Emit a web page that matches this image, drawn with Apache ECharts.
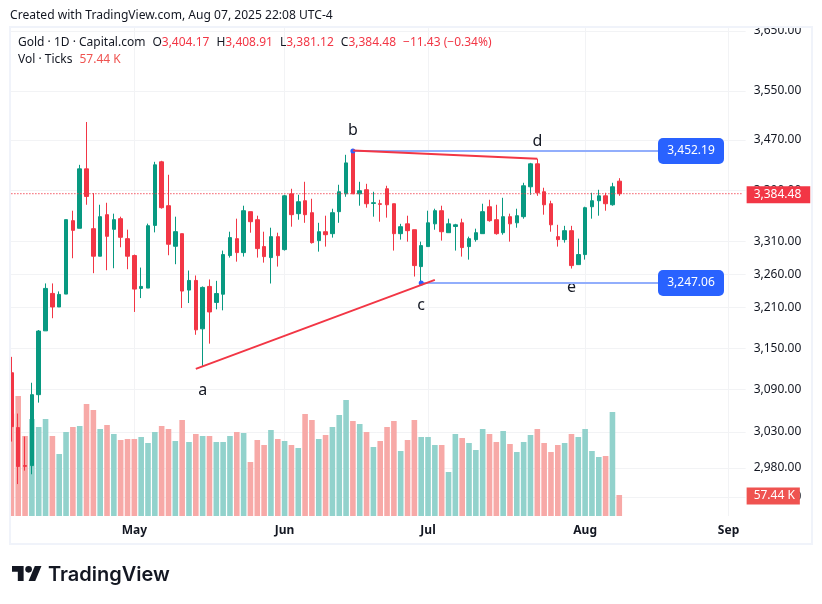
<!DOCTYPE html>
<html>
<head>
<meta charset="utf-8">
<style>
  html, body { margin: 0; padding: 0; background: #fff; }
  #chart { width: 822px; height: 604px; }
</style>
<script src="https://cdn.jsdelivr.net/npm/echarts@6/dist/echarts.min.js"></script>
</head>
<body>
<div id="chart"></div>
<script>
// 一个交易日一个位置，后面留出到九月初的空位
const dates = [
  '04-07','04-08','04-09','04-10','04-11','04-14','04-15','04-16','04-17','04-18',
  '04-21','04-22','04-23','04-24','04-25','04-28','04-29','04-30','05-01','05-02',
  '05-05','05-06','05-07','05-08','05-09','05-12','05-13','05-14','05-15','05-16',
  '05-19','05-20','05-21','05-22','05-23','05-26','05-27','05-28','05-29','05-30',
  '06-02','06-03','06-04','06-05','06-06','06-09','06-10','06-11','06-12','06-13',
  '06-16','06-17','06-18','06-19','06-20','06-23','06-24','06-25','06-26','06-27',
  '06-30','07-01','07-02','07-03','07-04','07-07','07-08','07-09','07-10','07-11',
  '07-14','07-15','07-16','07-17','07-18','07-21','07-22','07-23','07-24','07-25',
  '07-28','07-29','07-30','07-31','08-01','08-04','08-05','08-06','08-07','08-08',
  '08-11','08-12','08-13','08-14','08-15','08-18','08-19','08-20','08-21','08-22',
  '08-25','08-26','08-27','08-28','08-29','09-01','09-02','09-03'
];
const monthDates = ['05-01', '06-02', '07-01', '08-01', '09-01'];
const monthLabels = ['May', 'Jun', 'Jul', 'Aug', 'Sep'];
const priceTicks = [3650, 3550, 3470, 3390, 3310, 3260, 3210, 3150, 3090, 3030, 2980, 2940];

const opens = [
  3114.4,3036.1,2983,2983,3082.9,3175.6,3231.3,3211,3230.3,3342.3,
  3330.5,3423.7,3329.9,3287.6,3351.6,3328.9,3345.4,3314.5,3288.6,3238.8,
  3239.3,3335,3434.9,3365.6,3302.8,3322.2,3236.3,3250.8,3178.6,3241.8,
  3217.8,3230.1,3288.6,3314.5,3293.1,3356.3,3343.8,3302.3,3285.5,3317.6,
  3297.7,3384.2,3353.2,3373.4,3354.7,3311.5,3325.2,3322.2,3356.3,3384.2,
  3453,3384.2,3390.7,3369.2,3368.7,3392.2,3368.7,3322.2,3337.4,3328.3,
  3271.8,3302.3,3337.4,3357.8,3323.7,3333.3,3339,3302.3,3313,3322.2,
  3364,3343.8,3323.7,3348.5,3339,3348.5,3395.3,3431.7,3387.5,3368.7,
  3317.6,3313,3326.8,3274.8,3290.1,3364,3373.4,3381.1,3367.1,3404.17
];
const closes = [
  3037.5,2981.8,2982,3082.9,3175.3,3238.8,3211,3229.8,3343.9,3327.3,
  3423.7,3380.1,3287.6,3348.5,3318.1,3343.9,3316.6,3287.6,3237.8,3241.8,
  3334.5,3430.1,3362.5,3305.9,3325.3,3234.8,3250.8,3177.1,3240.3,3203.6,
  3231.1,3290.1,3316.1,3293.1,3357.8,3340.7,3299.2,3287,3317.6,3288.5,
  3381.1,3351.6,3371.8,3351.6,3308.4,3325.2,3320.6,3354.7,3387.5,3433.2,
  3384.2,3389.1,3368.7,3370.3,3367.7,3367.1,3322.2,3333,3326.8,3273.3,
  3303.8,3339,3357.8,3325.2,3337.4,3335.9,3300.8,3314.5,3323.7,3356.3,
  3342.3,3322.2,3348.5,3337.4,3350,3396.9,3431.7,3385.9,3367.1,3335.9,
  3313,3326.8,3273.3,3290.1,3362.5,3373.4,3381.1,3368.7,3395.3,3384.48
];
const lows = [
  3016.5,2957.5,2976,2971,3071.5,3175.6,3194.3,3211,3230.3,3284.5,
  3330.5,3367.1,3261.8,3287.6,3266.3,3269.3,3301.3,3267.8,3203.6,3224.3,
  3239.3,3324.2,3361,3289.1,3275.4,3209.5,3216.9,3169.8,3124.3,3156.8,
  3207.5,3206,3285.5,3279.3,3287,3323.7,3285.5,3277.8,3246.2,3271.8,
  3296.2,3333,3343.8,3339,3306.9,3294.6,3302.3,3316.1,3339,3379.6,
  3384.2,3365.6,3362.5,3348.5,3340.7,3347,3296.2,3313,3309.9,3256.7,
  3247.06,3302.3,3328.3,3311.5,3323.7,3296.2,3287,3282.4,3309.9,3322.2,
  3340.7,3320.6,3320.6,3309.9,3331.4,3345.4,3382.7,3381.1,3351.6,3325.2,
  3302.3,3308.4,3268.8,3274.8,3282.4,3345.4,3350,3357.8,3365.6,3381.12
];
const highs = [
  3137.5,3056,3023.5,3100,3176.8,3246.3,3246.3,3234.3,3343.9,3357.8,
  3430.1,3499,3385.4,3367.1,3370.2,3353.2,3348.5,3328.4,3290.1,3270.3,
  3337.7,3434.9,3436.5,3414.3,3348.5,3322.2,3265.8,3258.3,3241.8,3252.3,
  3250.2,3296.2,3325.2,3345.4,3365.6,3356.3,3350,3325.2,3331.4,3323.7,
  3382.7,3392.2,3382.7,3403.2,3376.5,3339,3350,3360.9,3398.5,3446.1,
  3455,3403.2,3400,3387.5,3374.9,3396.9,3368.7,3337.4,3350,3328.3,
  3309.9,3357.8,3360.9,3365.6,3345.4,3337.4,3345.4,3317.6,3329.9,3368.7,
  3374.9,3367.1,3378,3353.2,3360.9,3401.6,3433.2,3439.7,3393.8,3373.4,
  3335.9,3334.3,3334.3,3314.5,3364,3385.9,3390.6,3385.9,3401.6,3408.91
];
// 成交量，单位 K
const volumes = [
  280,333.7,218.8,265.3,243.4,265.3,218.8,169.6,229.7,243.4,
  246.2,306.3,289.9,238,248.9,224.3,207.9,210.6,210.6,216.1,
  199.7,229.7,246.2,238,205.1,262.6,202.4,224.3,218.8,218.8,
  202.4,202.4,218.8,229.7,227,147.7,207.9,194.2,235.2,210.6,
  205.1,194.2,186,279,262.6,210.6,221.5,243.4,276.2,317.3,
  259.8,251.6,229.7,188.7,205.1,243.4,259.8,177.8,207.9,262.6,
  216.1,216.1,194.2,194.2,120.3,224.3,213.3,199.7,180.5,238,
  224.3,202.4,232.5,196.9,175,202.4,221.5,238,199.7,175,
  194.2,199.7,224.3,216.1,238,177.8,161.4,164.1,284.4,57.44
];
const lastPrice = 3384.48;
const lastVolume = 57.44;
const level1 = 3452.19;
const level2 = 3247.06;
// 标注：字母、所在日期、价格
const waveNames = ['a', 'b', 'c', 'd', 'e'];
const waveDates = ['05-15', '06-16', '06-30', '07-23', '07-30'];
const wavePrices = [3089, 3486, 3214, 3468, 3241];

const UP = '#089981';
const DOWN = '#f23645';
const GRID = '#f2f3f5';
const TEXT = '#131722';
const LINE_BLUE = '#92aefc';
const FONT = '"Noto Sans", sans-serif';
const ROUND_BOX = 'path://M5 0H61A5 5 0 0 1 66 5V21A5 5 0 0 1 61 26H5A5 5 0 0 1 0 21V5A5 5 0 0 1 5 0Z';

const candles = dates.slice(0, opens.length).map((d, i) => [opens[i], closes[i], lows[i], highs[i]]);
const volumeItems = volumes.map((v, i) => ({
  value: v,
  itemStyle: { color: closes[i] >= opens[i] ? '#92d2cc' : '#f7a9a7' }
}));

function isMonth(index, value) {
  return monthDates.indexOf(value) >= 0;
}

// 右侧蓝色价格框的折线
function levelSeries(price, startDate) {
  return {
    type: 'line',
    xAxisIndex: 0,
    yAxisIndex: 0,
    z: 6,
    silent: true,
    showSymbol: true,
    showAllSymbol: true,
    lineStyle: { color: LINE_BLUE, width: 2 },
    data: [
      { value: [startDate, price], symbol: 'circle', symbolSize: 5, itemStyle: { color: '#2962ff' } },
      {
        value: ['08-25', price],
        symbol: ROUND_BOX,
        symbolSize: [66, 26],
        symbolKeepAspect: false,
        symbolOffset: [-3.4, 0],
        itemStyle: { color: '#2962ff' },
        label: {
          show: true,
          position: 'inside',
          color: '#fff',
          fontFamily: FONT,
          fontSize: 12,
          formatter: price.toLocaleString('en-US', { minimumFractionDigits: 2 })
        }
      }
    ]
  };
}

function trendSeries(points) {
  return {
    type: 'line',
    xAxisIndex: 0,
    yAxisIndex: 0,
    z: 7,
    silent: true,
    symbol: 'none',
    lineStyle: { color: DOWN, width: 2 },
    data: points
  };
}

function headerStyle(redColor) {
  return {
    fontSize: 12, fontWeight: 'normal', color: TEXT, fontFamily: FONT,
    rich: {
      r: { color: redColor, fontSize: 12, fontFamily: FONT },
      g: { width: 7 }
    }
  };
}

const chart = echarts.init(document.getElementById('chart'));

chart.setOption({
  animation: false,
  backgroundColor: '#fff',
  textStyle: { fontFamily: FONT },
  title: [
    {
      text: 'Created with TradingView.com, Aug 07, 2025 22:08 UTC-4',
      left: 10, top: 10, padding: 0,
      textStyle: { fontSize: 12.08, fontWeight: 'normal', color: TEXT, fontFamily: FONT }
    },
    {
      text: 'Gold · 1D · Capital.com{g| }O{r|3,404.17}{g| }H{r|3,408.91}{g| }L{r|3,381.12}{g| }C{r|3,384.48}{g| }{r|−11.43 (−0.34%)}',
      left: 18, top: 37, padding: 0,
      textStyle: headerStyle(DOWN)
    },
    {
      text: 'Vol · Ticks{g| }{r|57.44 K}',
      left: 18, top: 54, padding: 0,
      textStyle: headerStyle('#ef5350')
    }
  ],
  grid: [
    { left: 7.985, top: 27, width: 737.64, height: 489 },
    { left: 7.985, top: 396, width: 737.64, height: 120 }
  ],
  xAxis: [
    {
      type: 'category',
      gridIndex: 0,
      data: dates,
      axisLine: { show: false },
      axisTick: { show: false },
      splitLine: {
        show: true,
        interval: isMonth,
        alignWithLabel: true,
        lineStyle: { color: GRID, width: 1 }
      },
      axisLabel: {
        interval: isMonth,
        margin: 9,
        color: TEXT,
        fontFamily: FONT,
        fontSize: 12,
        fontWeight: 'bold',
        formatter: v => monthLabels[monthDates.indexOf(v)]
      }
    },
    {
      type: 'category',
      gridIndex: 1,
      data: dates,
      axisLine: { show: false },
      axisTick: { show: false },
      axisLabel: { show: false }
    }
  ],
  yAxis: [
    {
      type: 'log',
      logBase: 10,
      gridIndex: 0,
      position: 'right',
      min: 2914,
      max: 3656.8,
      axisLine: { show: false },
      axisTick: { show: false, customValues: priceTicks },
      splitLine: { show: true, lineStyle: { color: GRID, width: 1 } },
      axisLabel: {
        customValues: priceTicks,
        margin: 8,
        color: TEXT,
        fontFamily: FONT,
        fontSize: 12,
        formatter: v => Number(v).toLocaleString('en-US', { minimumFractionDigits: 2 })
      }
    },
    {
      type: 'value',
      gridIndex: 1,
      position: 'right',
      min: 0,
      max: 328.2,
      axisLine: { show: false },
      axisTick: { show: false },
      axisLabel: { show: false },
      splitLine: { show: false }
    }
  ],
  series: [
    {
      name: 'Vol',
      type: 'bar',
      xAxisIndex: 1,
      yAxisIndex: 1,
      z: 1,
      barWidth: 5.6,
      silent: true,
      data: volumeItems,
      markLine: {
        silent: true,
        symbol: 'none',
        lineStyle: { color: 'rgba(0,0,0,0)', width: 1 },
        data: [{ yAxis: lastVolume }],
        label: {
          show: true,
          position: 'end',
          distance: 1,
          offset: [0, 1],
          formatter: '57.44 K',
          color: '#fff',
          fontFamily: FONT,
          fontSize: 12,
          backgroundColor: '#ef5350',
          padding: [3, 5, 2, 7]
        }
      }
    },
    {
      name: 'Gold',
      type: 'candlestick',
      xAxisIndex: 0,
      yAxisIndex: 0,
      z: 3,
      barWidth: 4,
      silent: true,
      data: candles,
      itemStyle: { color: UP, color0: DOWN, borderColor: UP, borderColor0: DOWN, borderWidth: 1 },
      markPoint: {
        silent: true,
        symbol: 'circle',
        symbolSize: 1,
        itemStyle: { color: 'transparent' },
        label: { show: true, position: 'inside', color: TEXT, fontFamily: FONT, fontSize: 16 },
        data: waveNames.map((n, i) => ({
          coord: [waveDates[i], wavePrices[i]],
          label: { formatter: n }
        }))
      }
    },
    {
      // 最新价虚线，线用折线画，右侧红色标签用 markLine
      name: 'Last',
      type: 'line',
      xAxisIndex: 0,
      yAxisIndex: 0,
      z: 5,
      silent: true,
      symbol: 'none',
      lineStyle: { color: DOWN, type: [1, 2], width: 1.4, cap: 'butt' },
      data: [[dates[0], lastPrice], [dates[dates.length - 1], lastPrice]],
      markLine: {
        silent: true,
        symbol: 'none',
        lineStyle: { color: 'rgba(0,0,0,0)', width: 1 },
        data: [{ yAxis: lastPrice }],
        label: {
          show: true,
          position: 'end',
          distance: 1,
          offset: [0, 1],
          formatter: '3,384.48',
          color: '#fff',
          fontFamily: FONT,
          fontSize: 12,
          backgroundColor: DOWN,
          padding: [3, 9, 2, 7]
        }
      }
    },
    levelSeries(level1, '06-16'),
    levelSeries(level2, '06-30'),
    trendSeries([['05-14', 3120], ['07-02', 3251.6]]),
    trendSeries([['06-16', 3453], ['07-23', 3439.7]])
  ],
  graphic: [
    // 盖住画框外的部分
    { type: 'rect', silent: true, z: 100, shape: { x: 0, y: 27, width: 9.5, height: 489 }, style: { fill: '#fff' } },
    { type: 'rect', silent: true, z: 100, shape: { x: 746, y: 16, width: 76, height: 10 }, style: { fill: '#fff' } },
    {
      type: 'rect', silent: true, z: 101,
      shape: { x: 10, y: 27, width: 802, height: 517 },
      style: { fill: 'none', stroke: '#f0f3fa', lineWidth: 2 }
    },
    // TradingView 标志
    {
      type: 'group', x: 12, y: 562.7, scaleX: 0.83, scaleY: 0.83, silent: true, z: 101,
      children: [
        { type: 'polygon', shape: { points: [[14, 22], [7, 22], [7, 11], [0, 11], [0, 4], [14, 4]] }, style: { fill: TEXT } },
        { type: 'polygon', shape: { points: [[28, 22], [20, 22], [27.5, 4], [35.5, 4]] }, style: { fill: TEXT } },
        { type: 'circle', shape: { cx: 20, cy: 8, r: 4 }, style: { fill: TEXT } }
      ]
    },
    {
      type: 'text', x: 48, y: 564.5, silent: true, z: 101,
      style: { text: 'TradingView', fill: TEXT, font: '600 20px Inter, sans-serif' }
    }
  ]
});
</script>
</body>
</html>
